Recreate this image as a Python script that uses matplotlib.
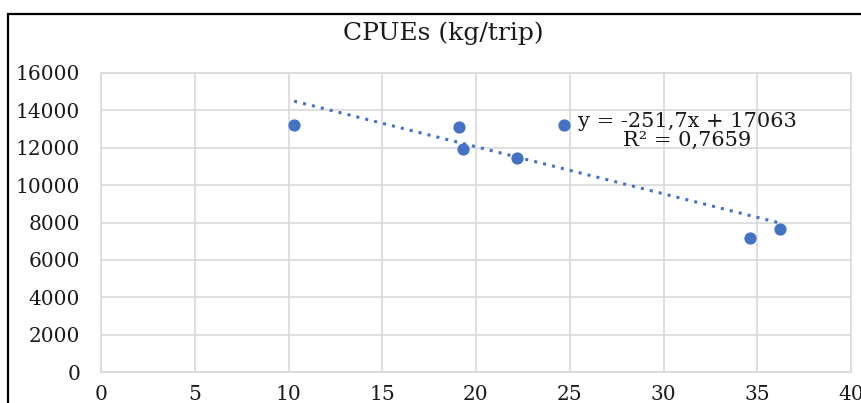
import matplotlib
matplotlib.use("Agg")
import matplotlib.pyplot as plt
import numpy as np
from matplotlib.patches import Rectangle

# data
days = [10.3, 19.1, 19.3, 22.2, 24.7, 34.6, 36.2]
cpue = [13200, 13100, 11950, 11450, 13200, 7170, 7650]
title = "CPUEs (kg/trip)"
eq_text = "y = -251,7x + 17063\nR² = 0,7659"
xticks = [0, 5, 10, 15, 20, 25, 30, 35, 40]
yticks = [0, 2000, 4000, 6000, 8000, 10000, 12000, 14000, 16000]

blue = "#4472C4"
grid = "#d9d9d9"
ink = "#1a1a1a"

plt.rcParams['font.family'] = ['DejaVu Serif']

fig = plt.figure(figsize=(8.61, 4.03), dpi=100)
ax = fig.add_axes([101/861, 31/403, 750/861, 299/403])

# linear trend line
p = np.polyfit(days, cpue, 1)
xt = np.array([min(days), max(days)])
ax.plot(xt, np.polyval(p, xt), color=blue, lw=2.2, linestyle=(0, (1, 2)), zorder=3)
ax.plot(days, cpue, 'o', color=blue, markersize=7.8, zorder=4)

ax.set_xlim(0, 40)
ax.set_ylim(0, 16000)
ax.set_xticks(xticks)
ax.set_yticks(yticks)
ax.tick_params(length=0, labelsize=14.5, colors=ink)
ax.tick_params(axis='y', pad=15)
ax.tick_params(axis='x', pad=9)
ax.grid(True, color=grid, lw=1.2)
ax.set_axisbelow(True)
for s in ax.spines.values():
    s.set_color(grid)
    s.set_linewidth(1.2)

ax.text(31.25, 12900, eq_text, ha='center', va='center', fontsize=15,
        color=ink, linespacing=0.95)

fig.text(443/861, 1 - 33/403, title, ha='center', va='center', fontsize=18, color=ink)

# outer chart frame (cropped on right and bottom)
fig.patches.append(Rectangle((8/861, -0.1), 1.1, 1 - 14/403 + 0.1, transform=fig.transFigure,
                             fill=False, ec='black', lw=1.6))

fig.savefig("out.png", dpi=100)
